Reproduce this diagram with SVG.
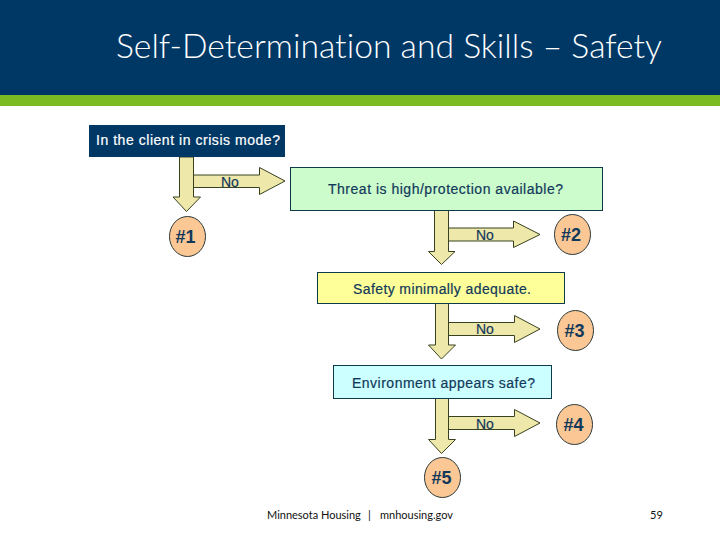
<svg xmlns="http://www.w3.org/2000/svg" width="720" height="540" viewBox="0 0 720 540">
<style>
.arrow{fill:#eee8aa;stroke:#38421f;stroke-width:1}
.box{stroke:#0f3a4a;stroke-width:1}
.circ{fill:#fbc795;stroke:#2c3a3a;stroke-width:1}
.t{font-family:"Liberation Sans",Arial,sans-serif;font-size:14px;fill:#12395a;stroke:#12395a;stroke-width:.2}
.n{font-family:"Liberation Sans",Arial,sans-serif;font-size:18px;font-weight:bold;fill:#12395a;text-anchor:middle}
.f{font-family:Lato,"Noto Sans",sans-serif;font-size:11px;fill:#111;font-variant-ligatures:none}
</style>
<rect width="720" height="540" fill="#fff"/>
<g id="header">
<rect width="720" height="95" fill="#003865"/>
<rect y="95" width="720" height="11" fill="#7abc21"/>
<text x="116" y="58" font-family="Lato,'Noto Sans',sans-serif" font-size="33" font-weight="300" fill="#fff" style="font-variant-ligatures:none" textLength="546" lengthAdjust="spacingAndGlyphs">Self-Determination and Skills – Safety</text>
</g>
<g id="connectors">
<path class="arrow" d="M193.5 175H259.5V167.5L285 181L259.5 194.5V187.5H193.5Z"/>
<path class="arrow" d="M179.5 157H193.5V197H200.5L186.5 211.5L173 197H179.5Z"/>
<path class="arrow" d="M448.5 228H513.5V221L540 234.5L513.5 247.5V241H448.5Z"/>
<path class="arrow" d="M434.5 210.5H448.5V251.5H455L441.5 264.5L428.5 251.5H434.5Z"/>
<path class="arrow" d="M448.5 322.5H514.5V315.5L540 329L514.5 342.5V335.5H448.5Z"/>
<path class="arrow" d="M435.5 303.5H448.5V345H455.5L441.5 359L428.5 345H435.5Z"/>
<path class="arrow" d="M448.5 416.5H514.5V409.5L540 423L514.5 436.5V429.5H448.5Z"/>
<path class="arrow" d="M435.5 398.5H448.5V439.5H455.5L441.5 453.5L428.5 439.5H435.5Z"/>
<text class="t" x="221" y="186.500">No</text>
<text class="t" x="476" y="240">No</text>
<text class="t" x="476" y="334">No</text>
<text class="t" x="476" y="429">No</text>
</g>
<g id="crisis">
<rect x="89" y="125" width="196" height="32" fill="#003865"/>
<text x="96" y="144.500" font-family="'Liberation Sans',Arial,sans-serif" font-size="14" fill="#fff" stroke="#fff" stroke-width=".2" textLength="184">In the client in crisis mode?</text>
</g>
<g id="threat">
<rect class="box" x="290.500" y="167.500" width="312" height="43" fill="#ccfccc"/>
<text class="t" x="328" y="193.500" textLength="235">Threat is high/protection available?</text>
</g>
<g id="safety">
<rect class="box" x="317.500" y="272.500" width="247" height="31" fill="#ffff99"/>
<text class="t" x="353" y="293.500" textLength="178">Safety minimally adequate.</text>
</g>
<g id="environment">
<rect class="box" x="333.500" y="365.500" width="218" height="33" fill="#ccffff"/>
<text class="t" x="352" y="387.500" textLength="183">Environment appears safe?</text>
</g>
<g id="n1"><ellipse class="circ" cx="187.500" cy="236.500" rx="18" ry="20"/><text class="n" x="185.500" y="243">#1</text></g>
<g id="n2"><ellipse class="circ" cx="572.500" cy="234.500" rx="18" ry="20"/><text class="n" x="571" y="241">#2</text></g>
<g id="n3"><ellipse class="circ" cx="575.500" cy="330.500" rx="18" ry="20"/><text class="n" x="574.500" y="337">#3</text></g>
<g id="n4"><ellipse class="circ" cx="574.500" cy="424.500" rx="18" ry="20"/><text class="n" x="573.500" y="431">#4</text></g>
<g id="n5"><ellipse class="circ" cx="442.500" cy="477.500" rx="18" ry="20"/><text class="n" x="441.500" y="484">#5</text></g>
<g id="footer">
<text class="f" y="519"><tspan x="267">Minnesota Housing</tspan><tspan x="368">|</tspan><tspan x="380">mnhousing.gov</tspan></text>
<text class="f" x="650" y="519">59</text>
</g>
</svg>
